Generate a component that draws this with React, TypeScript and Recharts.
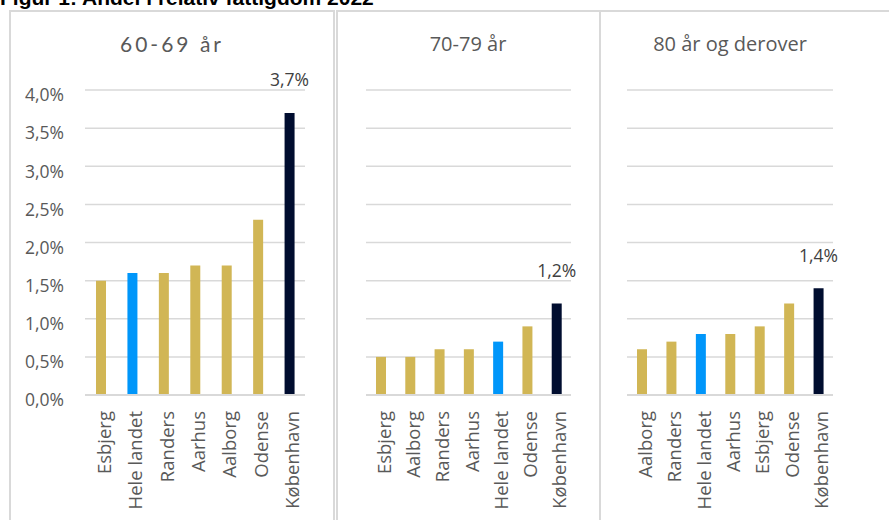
import React from "react";
import { BarChart, Bar, XAxis, YAxis, CartesianGrid, Cell } from "recharts";

// values in percent
const cats6069 = ["Esbjerg", "Hele landet", "Randers", "Aarhus", "Aalborg", "Odense", "København"];
const vals6069 = [1.5, 1.6, 1.6, 1.7, 1.7, 2.3, 3.7];

const cats7079 = ["Esbjerg", "Aalborg", "Randers", "Aarhus", "Hele landet", "Odense", "København"];
const vals7079 = [0.5, 0.5, 0.6, 0.6, 0.7, 0.9, 1.2];

const cats80 = ["Aalborg", "Randers", "Hele landet", "Aarhus", "Esbjerg", "Odense", "København"];
const vals80 = [0.6, 0.7, 0.8, 0.8, 0.9, 1.2, 1.4];

const yTicks = [0, 0.5, 1, 1.5, 2, 2.5, 3, 3.5, 4];

const GOLD = "#D1B655";
const BLUE = "#0096FA";
const NAVY = "#000D2F";
const GRID = "#d9d9d9";
const TEXT = "#595959";
const FONT = "'Open Sans', sans-serif";

const fmt = (v: number) => `${v.toFixed(1).replace(".", ",")}%`;

const barColor = (name: string) =>
  name === "Hele landet" ? BLUE : name === "København" ? NAVY : GOLD;

const CatTick = (props: any) => {
  const { x, y, payload } = props;
  const ty = y + 8;
  return (
    <text
      x={x}
      y={ty}
      transform={`rotate(-90, ${x}, ${ty})`}
      textAnchor="end"
      dy={10}
      fill={TEXT}
      fontSize={18.5}
      fontFamily={FONT}
    >
      {payload.value}
    </text>
  );
};

const ValTick = (props: any) => {
  const { x, y, payload } = props;
  return (
    <text
      x={x}
      y={y + 5}
      dy="0.36em"
      textAnchor="end"
      fill={TEXT}
      fontSize={17.5}
      fontFamily={FONT}
    >
      {fmt(payload.value)}
    </text>
  );
};

type PanelProps = {
  cats: string[];
  vals: number[];
  width: number;
  left: number;
  right: number;
  showY?: boolean;
};

const Panel: React.FC<PanelProps> = ({ cats, vals, width, left, right, showY }) => {
  const data = cats.map((name, i) => ({ name, value: vals[i] }));
  const last = data.length - 1;
  return (
    <BarChart
      width={width}
      height={509}
      data={data}
      margin={{ top: 79, right, left: showY ? 0 : left, bottom: 0 }}
      barCategoryGap={0}
    >
      <CartesianGrid vertical={false} stroke={GRID} strokeWidth={1.5} />
      <XAxis
        dataKey="name"
        interval={0}
        height={125}
        tickLine={false}
        axisLine={{ stroke: GRID, strokeWidth: 2 }}
        tick={<CatTick />}
      />
      <YAxis
        hide={!showY}
        width={left}
        domain={[0, 4]}
        ticks={yTicks}
        axisLine={false}
        tickLine={false}
        tickSize={0}
        tickMargin={21}
        tick={<ValTick />}
      />
      <Bar
        dataKey="value"
        barSize={10}
        isAnimationActive={false}
        label={(p: any) =>
          p.index === last ? (
            <text
              x={p.x + p.width / 2}
              y={p.y - 33}
              dy="0.36em"
              textAnchor="middle"
              fill="#404040"
              fontSize={17.5}
              fontFamily={FONT}
            >
              {fmt(p.value)}
            </text>
          ) : null
        }
      >
        {data.map((d) => (
          <Cell key={d.name} fill={barColor(d.name)} />
        ))}
      </Bar>
    </BarChart>
  );
};

const boxStyle = (left: number, width: number): React.CSSProperties => ({
  position: "absolute",
  left,
  top: 10,
  width,
  height: 530,
  borderTop: `2px solid ${GRID}`,
  borderLeft: `2px solid ${GRID}`,
  borderRight: `2px solid ${GRID}`,
  boxSizing: "border-box",
});

const titleStyle = (left: number, width: number, top: number): React.CSSProperties => ({
  position: "absolute",
  left,
  top,
  width,
  textAlign: "center",
  color: TEXT,
  fontFamily: FONT,
  fontSize: 20,
  lineHeight: "24px",
  whiteSpace: "nowrap",
});

export default function App() {
  return (
    <div
      style={{
        position: "absolute",
        left: 0,
        top: 0,
        width: 889,
        height: 520,
        overflow: "hidden",
        background: "#fff",
      }}
    >
      <div
        style={{
          position: "absolute",
          left: 0,
          top: -13,
          fontFamily: "'Liberation Sans', Arial, sans-serif",
          fontWeight: "bold",
          fontSize: 21,
          lineHeight: "21px",
          color: "#000",
          whiteSpace: "nowrap",
        }}
      >
        Figur 1: Andel i relativ fattigdom 2022
      </div>

      <div style={boxStyle(9, 326)} />
      <div style={boxStyle(336, 265)} />
      <div style={boxStyle(599, 310)} />

      <div
        style={{
          ...titleStyle(10, 324, 32),
          fontFamily: "Lato, sans-serif",
          fontSize: 21,
          letterSpacing: 3,
        }}
      >
        60-69 år
      </div>
      <div style={titleStyle(337, 262, 32)}>70-79 år</div>
      <div style={titleStyle(599, 262, 32)}>80 år og derover</div>

      <div style={{ position: "absolute", left: 10, top: 11 }}>
        <Panel cats={cats6069} vals={vals6069} width={324} left={75} right={29} showY />
      </div>
      <div style={{ position: "absolute", left: 337, top: 11 }}>
        <Panel cats={cats7079} vals={vals7079} width={262} left={29} right={28} />
      </div>
      <div style={{ position: "absolute", left: 599, top: 11 }}>
        <Panel cats={cats80} vals={vals80} width={290} left={28} right={56} />
      </div>
    </div>
  );
}
